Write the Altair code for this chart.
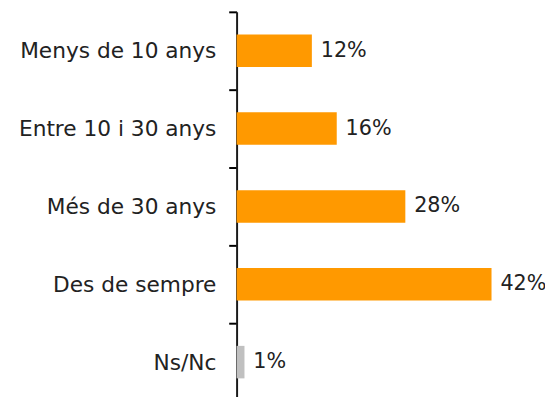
import altair as alt
import pandas as pd

categories = ["Menys de 10 anys", "Entre 10 i 30 anys", "Més de 30 anys", "Des de sempre", "Ns/Nc"]
values = [12.4, 16.5, 27.8, 42.0, 1.3]
labels = ["12%", "16%", "28%", "42%", "1%"]
groups = ["resposta", "resposta", "resposta", "resposta", "nsnc"]

df = pd.DataFrame({"cat": categories, "val": values, "lbl": labels, "grp": groups})

FONT = "DejaVu Sans"

y = alt.Y(
    "cat:N",
    sort=categories,
    title=None,
    scale=alt.Scale(range=[0, 395], paddingInner=0, paddingOuter=0),
    axis=alt.Axis(
        domainColor="#1a1a1a", domainWidth=2,
        tickColor="#000000", tickWidth=2, tickSize=8, tickBand="extent",
        labelFont=FONT, labelFontSize=22, labelColor="#222222",
        labelPadding=13, labelLimit=300, grid=False,
    ),
)
x = alt.X("val:Q", scale=alt.Scale(domain=[0, 50]), axis=None)

bars = alt.Chart(df).mark_bar(size=33).encode(
    y=y, x=x,
    color=alt.Color("grp:N", scale=alt.Scale(domain=["resposta", "nsnc"], range=["#FF9900", "#C0C0C0"]), legend=None),
)
text = alt.Chart(df).mark_text(
    align="left", baseline="middle", dx=9, font=FONT, fontSize=21, color="#222222"
).encode(y=alt.Y("cat:N", sort=categories), x=x, text="lbl:N")

chart = (bars + text).properties(
    width=308, height=388,
    autosize=alt.AutoSizeParams(type="none"),
    padding={"left": 232, "top": 1, "right": 5, "bottom": 0},
).configure_view(stroke=None)

chart.save("out.html", embed_options={"renderer": "svg", "actions": False})
